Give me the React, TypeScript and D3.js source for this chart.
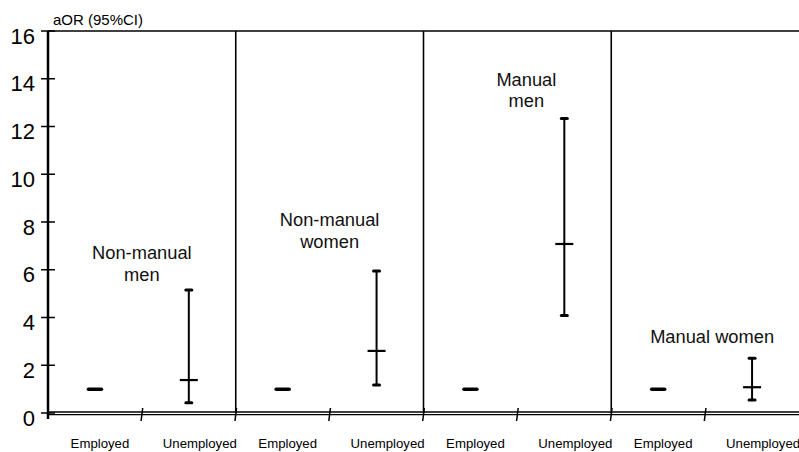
import React from "react";
import * as d3 from "d3";

// groups and exposure categories
const groups = ["Non-manual men", "Non-manual women", "Manual men", "Manual women"];
const statuses = ["Employed", "Unemployed"];

// odds ratios (employed = reference)
const employedOR = [1, 1, 1, 1];
const unemployedOR = [1.38, 2.6, 7.08, 1.08];
const unemployedLow = [0.43, 1.17, 4.08, 0.54];
const unemployedHigh = [5.15, 5.95, 12.34, 2.29];

// panel captions
const captions = [["Non-manual", "men"], ["Non-manual", "women"], ["Manual", "men"], ["Manual women"]];

const yLabel = "aOR (95%CI)";

const W = 799;
const H = 452;
const FONT = "'Liberation Sans', Arial, Helvetica, sans-serif";

const App: React.FC = () => {
  const margin = { top: 31, right: 0, bottom: 39, left: 48 };

  const keys = groups.flatMap((g) => statuses.map((s) => `${g}|${s}`));

  const xScale = d3
    .scaleBand<string>()
    .domain(keys)
    .range([margin.left, W - margin.right])
    .padding(0);

  const yScale = d3
    .scaleLinear()
    .domain([0, 16])
    .range([H - margin.bottom, margin.top]);

  const bw = xScale.bandwidth();
  const y0 = yScale(0);
  const cx = (g: string, s: string) => (xScale(`${g}|${s}`) ?? 0) + bw / 2;

  // caption placement, in chart units (baseline of first line) and px shift from panel middle
  const captionY = [6.45, 7.83, 13.7, 2.93];
  const captionDx = [0, 0, 9, 7];
  // category labels sit a little right of the band centres in the original
  const labelDx: Record<string, number> = { Employed: 5, Unemployed: 11 };

  return (
    <div style={{ position: "absolute", left: 0, top: 0 }}>
      <svg width={W} height={H} style={{ display: "block", background: "white" }} fontFamily={FONT}>
        {/* top frame line */}
        <line x1={margin.left} x2={W} y1={margin.top} y2={margin.top} stroke="#000" strokeWidth={1.5} />

        {/* panel separators */}
        {groups.slice(1).map((g) => {
          const x = xScale(`${g}|Employed`) ?? 0;
          return <line key={`sep-${g}`} x1={x} x2={x} y1={margin.top} y2={y0} stroke="#000" strokeWidth={1.6} />;
        })}

        {/* y axis */}
        <line x1={margin.left} x2={margin.left} y1={margin.top} y2={y0 + 6} stroke="#000" strokeWidth={2.5} />
        {yScale.ticks(8).map((t) => (
          <g key={`yt-${t}`}>
            <line x1={margin.left - 7} x2={margin.left + 7} y1={yScale(t)} y2={yScale(t)} stroke="#000" strokeWidth={1.5} />
            <text x={35} y={yScale(t) + 12.5} textAnchor="end" fontSize={22} fill="#000">
              {t}
            </text>
          </g>
        ))}
        <text x={53} y={25} fontSize={15} fill="#000">
          {yLabel}
        </text>

        {/* x axis (double line) */}
        <line x1={margin.left} x2={W} y1={y0 - 1} y2={y0 - 1} stroke="#000" strokeWidth={1.3} />
        <line x1={margin.left} x2={W} y1={y0 + 1.6} y2={y0 + 1.6} stroke="#000" strokeWidth={1.3} />
        {keys.slice(1).map((k) => {
          const x = xScale(k) ?? 0;
          return <line key={`xt-${k}`} x1={x - 0.8} x2={x + 0.8} y1={y0 + 8} y2={y0 - 5} stroke="#000" strokeWidth={1.5} />;
        })}
        {keys.map((k) => {
          const [g, s] = k.split("|");
          return (
            <text key={`xl-${k}`} x={cx(g, s) + labelDx[s]} y={448} textAnchor="middle" fontSize={13.2} fill="#000">
              {s}
            </text>
          );
        })}

        {/* employed reference marks */}
        {groups.map((g, i) => {
          const x = cx(g, "Employed");
          const y = yScale(employedOR[i]);
          return (
            <line key={`emp-${g}`} x1={x - 6.5} x2={x + 6.5} y1={y} y2={y} stroke="#000" strokeWidth={3.5} strokeLinecap="round" />
          );
        })}

        {/* unemployed estimates with CI */}
        {groups.map((g, i) => {
          const x = cx(g, "Unemployed");
          const yLo = yScale(unemployedLow[i]);
          const yHi = yScale(unemployedHigh[i]);
          const yM = yScale(unemployedOR[i]);
          return (
            <g key={`unemp-${g}`} stroke="#000">
              <line x1={x} x2={x} y1={yHi} y2={yLo} strokeWidth={2} />
              <line x1={x - 3} x2={x + 3} y1={yHi} y2={yHi} strokeWidth={3} strokeLinecap="round" />
              <line x1={x - 3} x2={x + 3} y1={yLo} y2={yLo} strokeWidth={3} strokeLinecap="round" />
              <line x1={x - 9} x2={x + 9} y1={yM} y2={yM} strokeWidth={2.2} />
            </g>
          );
        })}

        {/* panel captions */}
        {groups.map((g, i) => {
          const x = (xScale(`${g}|Unemployed`) ?? 0) + captionDx[i];
          const y = yScale(captionY[i]);
          return (
            <text key={`cap-${g}`} x={x} y={y} textAnchor="middle" fontSize={18.3} fill="#111">
              {captions[i].map((line, j) => (
                <tspan key={j} x={x} dy={j === 0 ? 0 : 21.5}>
                  {line}
                </tspan>
              ))}
            </text>
          );
        })}
      </svg>
    </div>
  );
};

export default App;
